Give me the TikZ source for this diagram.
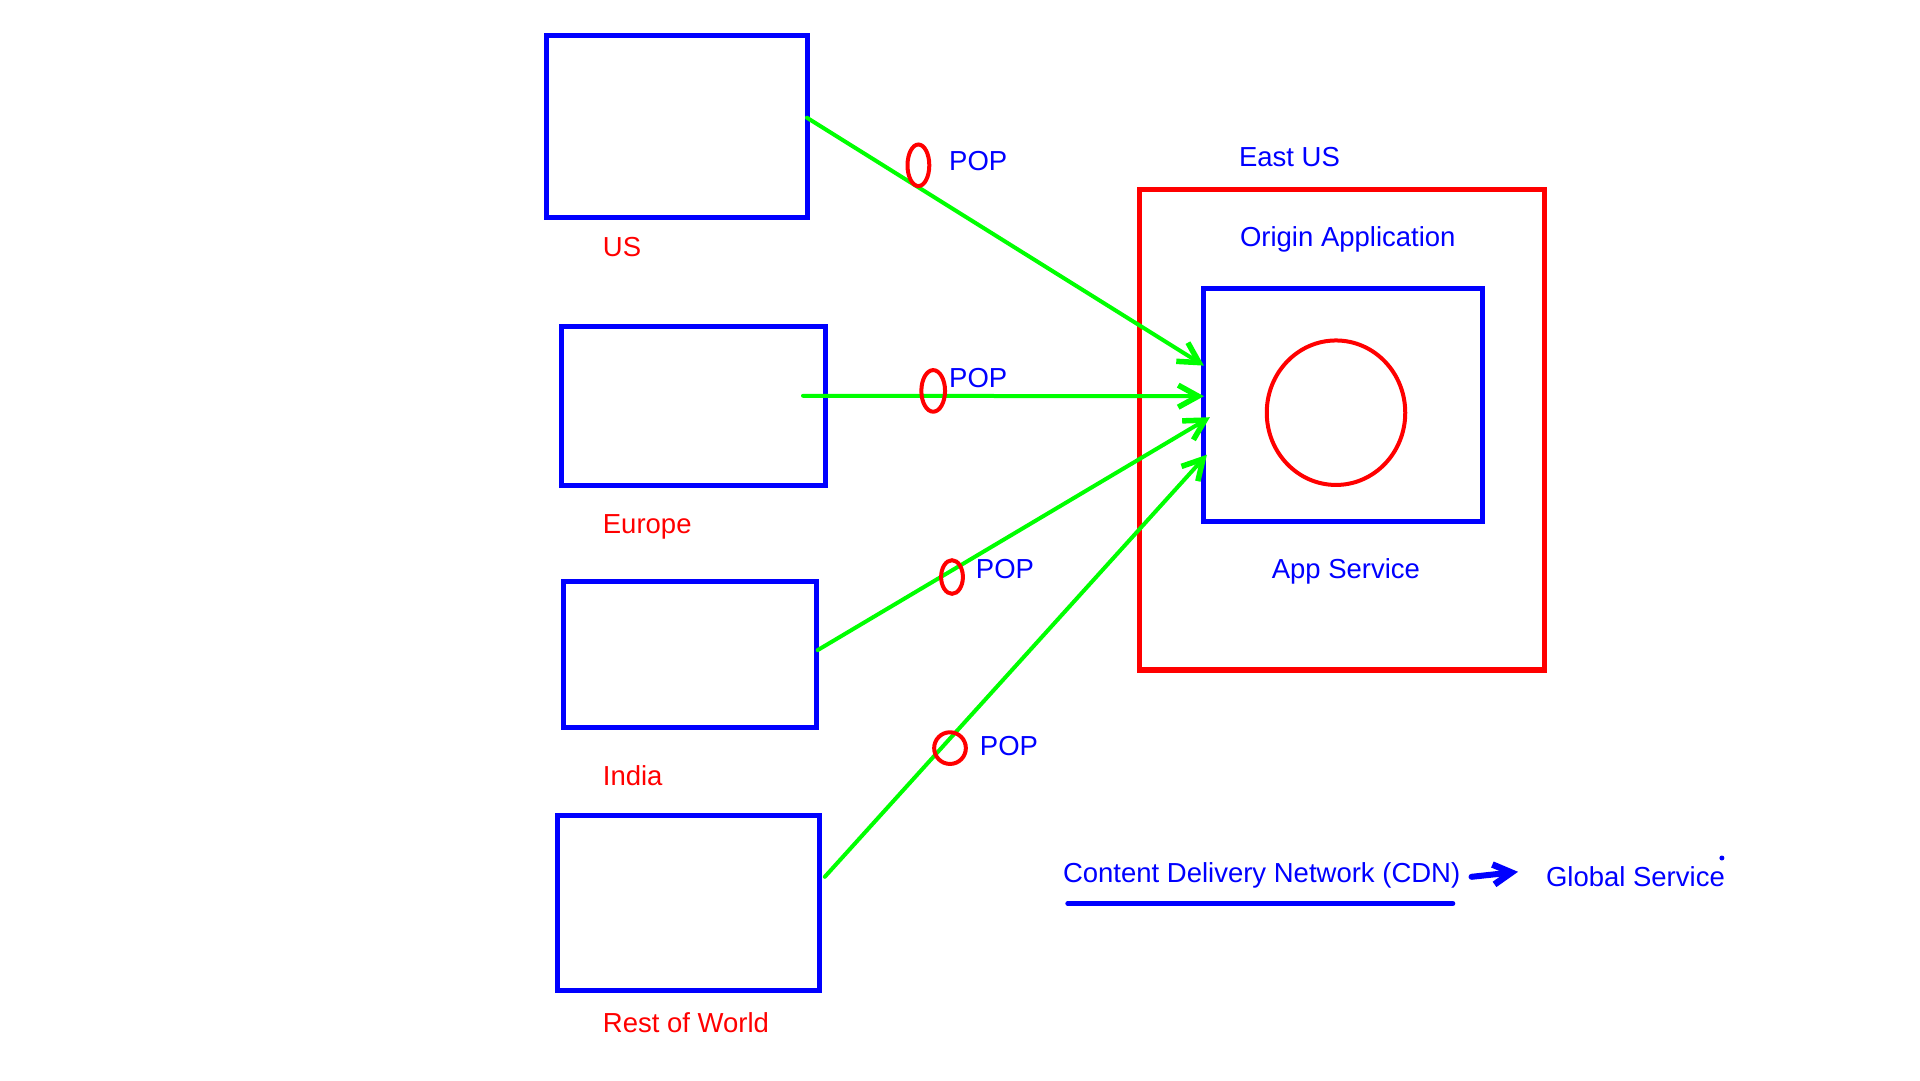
\documentclass[tikz,border=0pt]{standalone}
\usepackage{fontspec}
\setmainfont{Liberation Sans}
\usetikzlibrary{arrows.meta,calc,shapes.geometric}
\definecolor{pblue}{RGB}{0,0,255}
\definecolor{pred}{RGB}{255,0,0}
\definecolor{pgreen}{RGB}{0,255,0}
\begin{document}
\begin{tikzpicture}[x=1pt,y=-1pt,
  region/.style={draw=pblue,line width=5pt,inner sep=0pt},
  origin/.style={draw=pred,line width=5.5pt,inner sep=0pt},
  pop/.style={ellipse,draw=pred,line width=4pt,inner sep=0pt},
  txt/.style={inner sep=0pt,font=\fontsize{27.5}{32}\selectfont},
  rlabel/.style={txt,text=pred,anchor=west},
  blabel/.style={txt,text=pblue},
  flow/.style={draw=pgreen,line width=4pt,line cap=round,-{Straight Barb[length=20pt,width=22pt,line width=5.5pt]}}]
\useasboundingbox (0,0) rectangle (1920,1080);
% source regions
\node[region,minimum width=261pt,minimum height=182pt] (us) at (676.9,126.7) {};
\node[region,minimum width=264pt,minimum height=159pt] (eu) at (693.2,406.2) {};
\node[region,minimum width=253pt,minimum height=145.5pt] (in) at (689.7,654.6) {};
\node[region,minimum width=262pt,minimum height=175pt] (rw) at (688.3,903) {};
\node[rlabel] (lus) at (602.7,247.4) {US};
\node[rlabel] (leu) at (602.7,527) {Europe};
\node[rlabel] (lin) at (602.7,775.9) {India};
\node[rlabel] (lrw) at (602.7,1022.8) {Rest of World};
% origin
\node[origin,minimum width=405pt,minimum height=480.5pt] (east) at (1342,429.75) {};
\node[region,minimum width=279pt,minimum height=232.6pt] (app) at (1342.9,405.2) {};
\node[ellipse,draw=pred,line width=4pt,inner sep=0pt,minimum width=138.5pt,minimum height=144.5pt] (core) at (1336,412.7) {};
\node[blabel] (least) at (1289.5,157.4) {East US};
\node[blabel] (lorig) at (1347.8,239.5) {Origin Application};
\node[blabel] (lapp) at (1345.9,571) {App Service};
% flows
\draw[flow] ($(us.east)+(-3,-9)$) -- ($(app.west)+(3,-39.6)$);
\draw[flow] ($(eu.east)+(-24.7,-10.4)$) -- ($(app.west)+(3,-9)$);
\draw[flow] ($(in.east)+(-1,-4.5)$) -- ($(app.west)+(9,12)$);
\draw[flow] ($(rw.east)+(3,-26.2)$) -- ($(app.west)+(6,49.5)$);
% POPs
\node[pop,minimum width=21.8pt,minimum height=41.6pt] (p1) at (918.4,165.3) {};
\node[pop,minimum width=23.7pt,minimum height=41.6pt] (p2) at (933.2,390.9) {};
\node[pop,minimum width=21.8pt,minimum height=33.6pt] (p3) at (952,577) {};
\node[pop,minimum width=31.7pt,minimum height=31.7pt] (p4) at (950,748.1) {};
\node[blabel,anchor=west] (t1) at (949,161.3) {POP};
\node[blabel,anchor=west] (t2) at (949,378) {POP};
\node[blabel,anchor=west] (t3) at (975.7,569) {POP};
\node[blabel,anchor=west] (t4) at (979.7,746.2) {POP};
% legend
\node[blabel,anchor=west] (cdn) at (1062.8,875.8) {Content Delivery Network (CDN)};
\node[blabel,anchor=west] (gs) at (1545.8,876.3) {Global Service};
\coordinate (ul1) at (1067.8,903.5);
\coordinate (ul2) at (1452.8,903.5);
\draw[pblue,line width=5pt,line cap=round] (ul1) -- (ul2);
\coordinate (ar1) at (1471.5,876.8);
\coordinate (ar2) at (1518,871.8);
\draw[pblue,line width=6pt,line cap=round,-{Straight Barb[length=18pt,width=20pt,line width=6.5pt]}] (ar1) -- (ar2);
\coordinate (dot) at (1721.9,858);
\fill[pblue] (dot) circle (2.5);
\end{tikzpicture}
\end{document}
